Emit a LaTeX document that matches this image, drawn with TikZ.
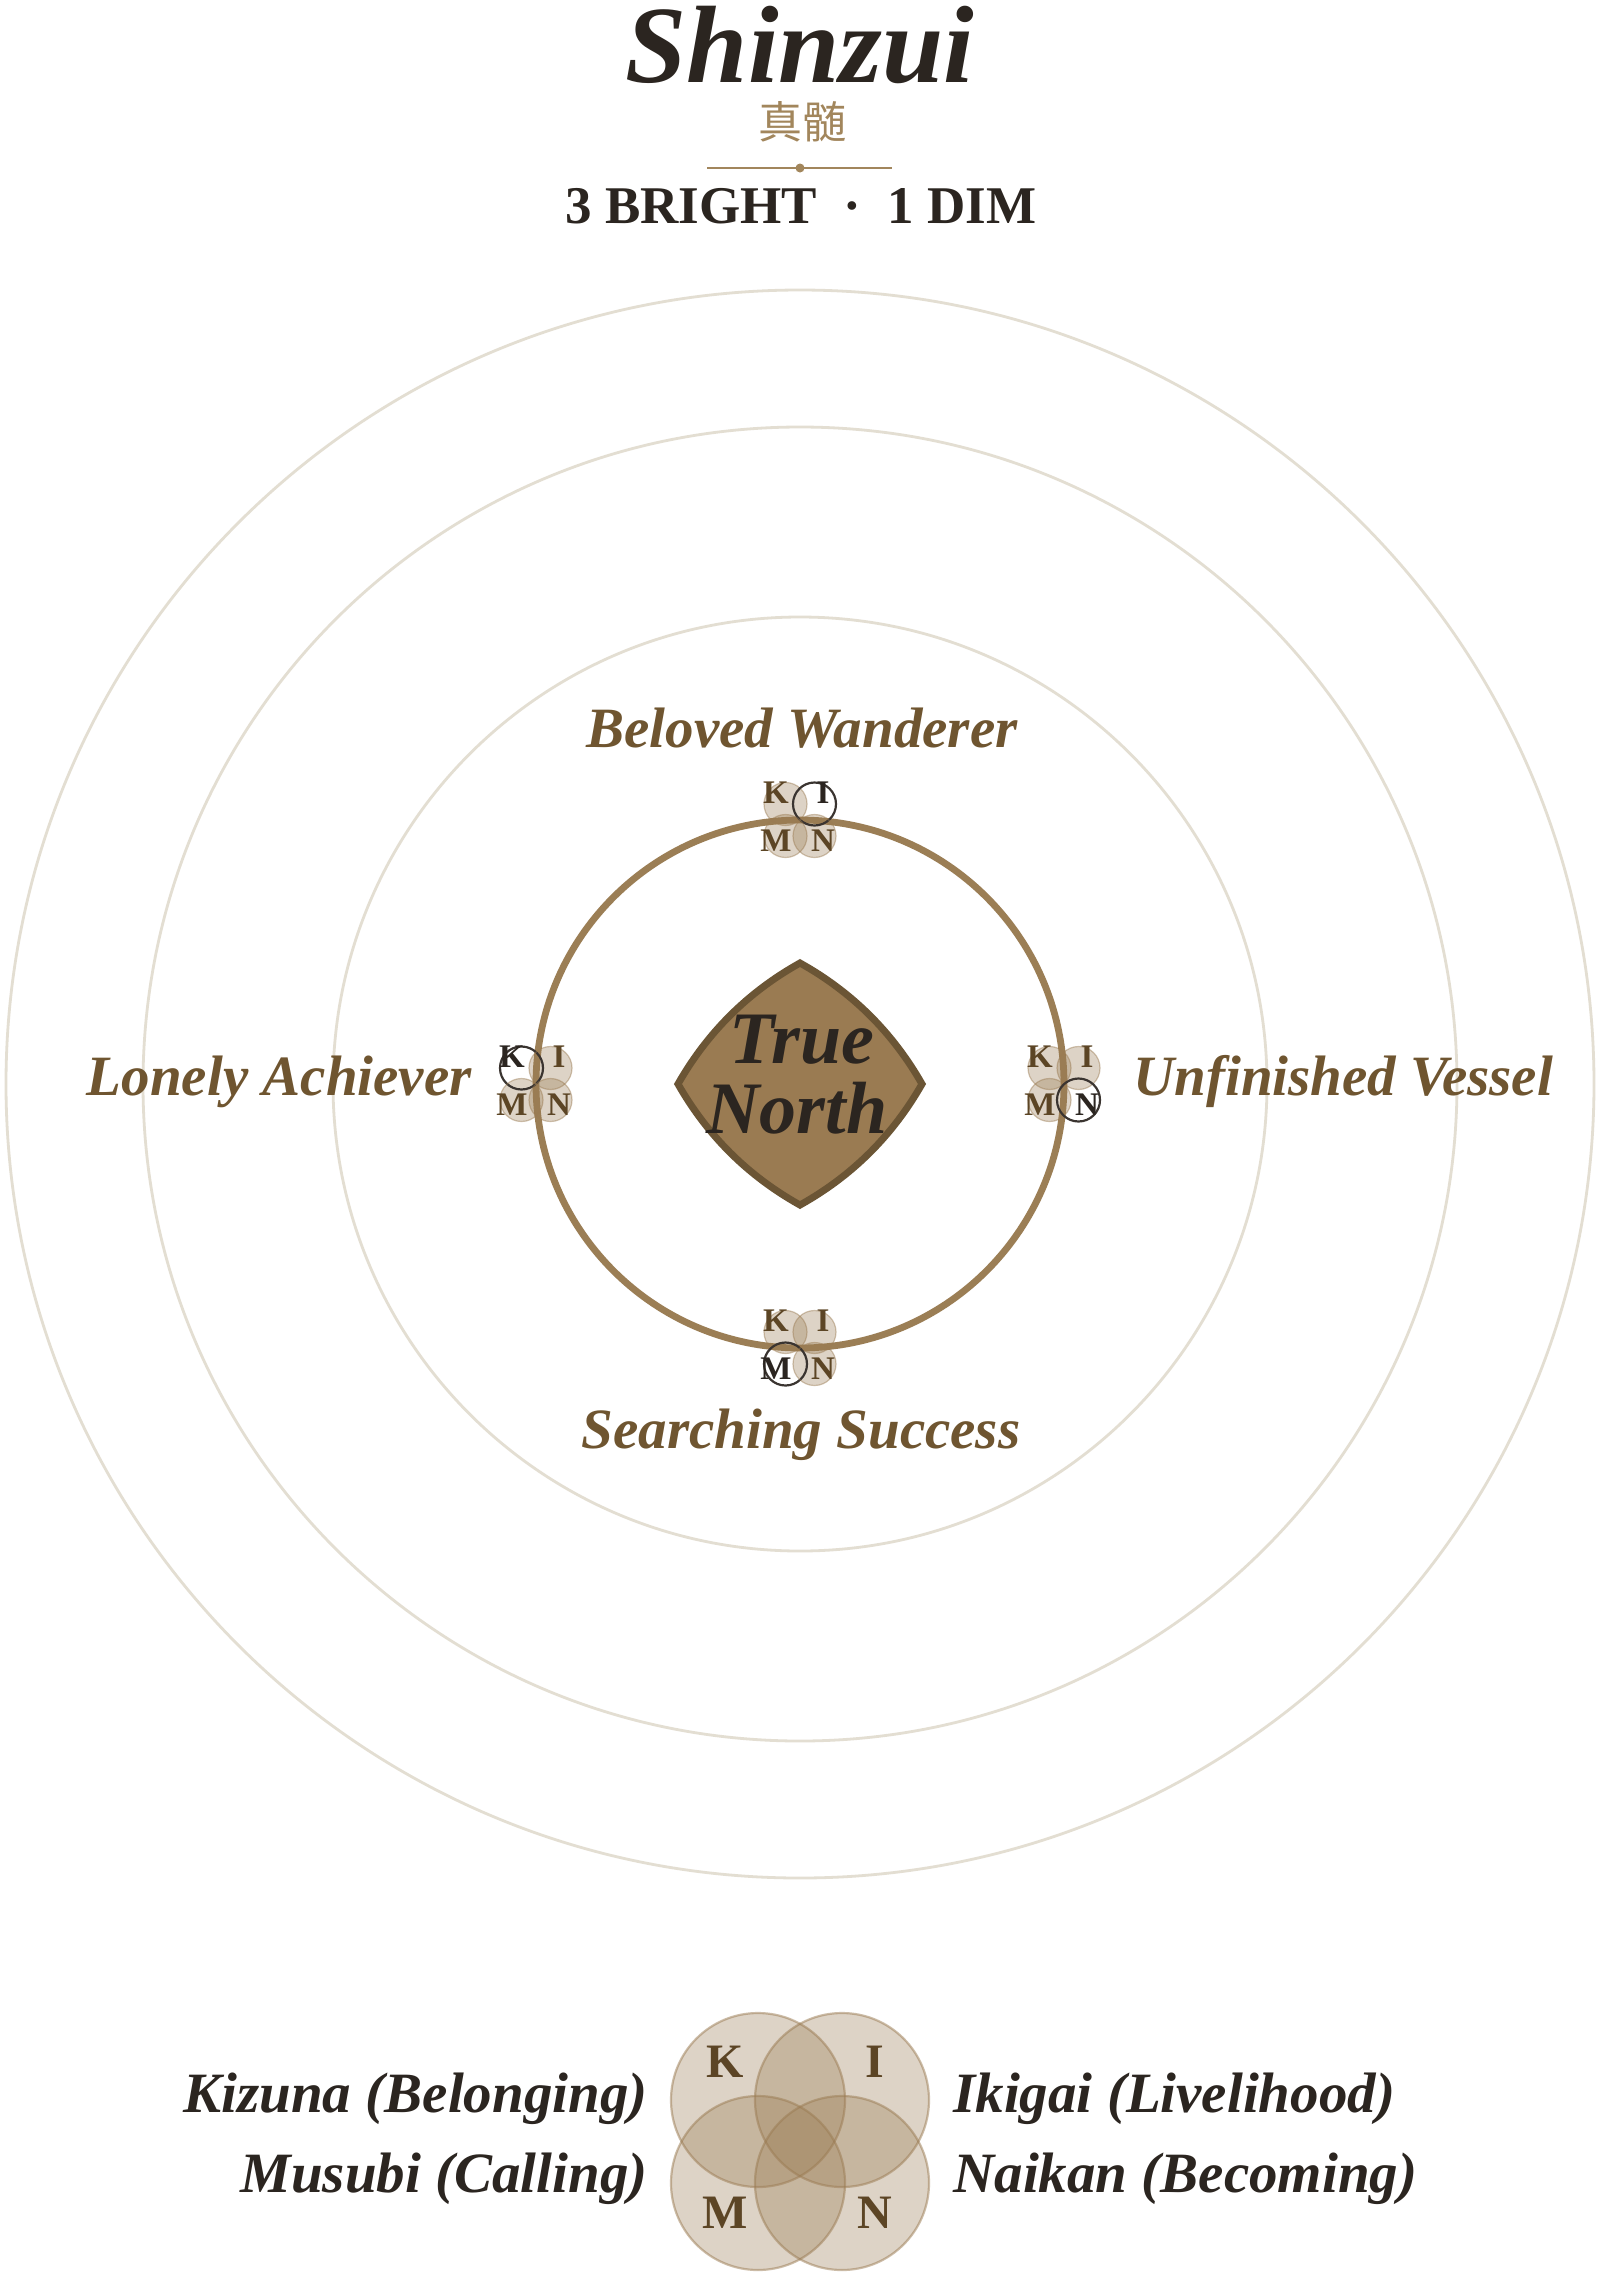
\documentclass[tikz,border=0pt]{standalone}
\usepackage{fontspec}
\setmainfont{Liberation Serif}
\newfontfamily\cjkfont{Noto Sans CJK JP}
\definecolor{ink}{HTML}{2B2520}
\definecolor{gold}{HTML}{A2865C}
\definecolor{labelbrown}{HTML}{6F5530}
\definecolor{letterbrown}{HTML}{5C4525}
\definecolor{tanbase}{HTML}{9A7B52}
\definecolor{ringmain}{HTML}{9B7E55}
\definecolor{bgline}{HTML}{E3DED2}
\definecolor{diamondedge}{HTML}{6B5535}
\definecolor{dimline}{HTML}{3A3430}
\newcommand\kimnglyph[7]{%
  \fill[c#4] (#2-14.5,#3-16) circle (21.5);
  \fill[c#5] (#2+14.5,#3-16) circle (21.5);
  \fill[c#6] (#2-14.5,#3+16) circle (21.5);
  \fill[c#7] (#2+14.5,#3+16) circle (21.5);
  \draw[o#4] (#2-14.5,#3-16) circle (21.5);
  \draw[o#5] (#2+14.5,#3-16) circle (21.5);
  \draw[o#6] (#2-14.5,#3+16) circle (21.5);
  \draw[o#7] (#2+14.5,#3+16) circle (21.5);
  \node[t#4] (#1K) at (#2-24,#3-27) {K};
  \node[t#5] (#1I) at (#2+23,#3-27) {I};
  \node[t#6] (#1M) at (#2-24,#3+21) {M};
  \node[t#7] (#1N) at (#2+23,#3+21) {N};
}
\begin{document}
\begin{tikzpicture}[x=0.5pt,y=-0.5pt,
  bgring/.style={draw=bgline, line width=1.4pt},
  cb/.style={fill=tanbase, fill opacity=0.33},
  cd/.style={fill=white, fill opacity=0},
  ob/.style={draw=tanbase, draw opacity=0.45, line width=0.6pt},
  od/.style={draw=dimline, line width=1.1pt},
  tb/.style={inner sep=0pt, text=letterbrown, font=\bfseries\fontsize{16.5}{16.5}\selectfont},
  td/.style={inner sep=0pt, text=ink, font=\bfseries\fontsize{16.5}{16.5}\selectfont},
  biglabel/.style={inner sep=0pt, text=labelbrown, font=\bfseries\itshape\fontsize{28.5}{30}\selectfont},
  legendlabel/.style={inner sep=0pt, text=ink, font=\bfseries\itshape\fontsize{28.5}{30}\selectfont},
  legendletter/.style={inner sep=0pt, text=letterbrown, font=\bfseries\fontsize{24}{24}\selectfont},
  legendc/.style={fill=tanbase, fill opacity=0.33, draw=tanbase, draw opacity=0.5, line width=1.1pt}
]
\useasboundingbox[fill=white] (0,0) rectangle (1600,2277);

% header
\node[inner sep=0pt, anchor=base, text depth=0pt, text=ink, font=\bfseries\itshape\fontsize{55}{60}\selectfont] (title) at (800,82) {Shinzui};
\node[inner sep=0pt, anchor=base, text height=16pt, text=gold, font=\cjkfont\fontsize{22}{24}\selectfont] (kanji) at (802,138) {真髄};
\coordinate (ruleL) at (707,168);
\coordinate (ruleR) at (892,168);
\draw[gold, line width=1.4pt] (ruleL) -- (ruleR);
\fill[gold] (800,168) circle (4.5);
\node[inner sep=0pt, anchor=base, text=ink, font=\bfseries\fontsize{26.5}{28}\selectfont] (subtitle) at (801,223) {3 BRIGHT\hspace{0.5em}·\hspace{0.5em}1 DIM};

% background rings
\draw[bgring] (800,1084) circle (794);
\draw[bgring] (800,1084) circle (657);
\draw[bgring] (800,1084) circle (467);

% main ring
\draw[ringmain, line width=3.4pt] (800,1084) circle (264);

% diamond
\coordinate (dT) at (800,963);
\coordinate (dR) at (922,1084);
\coordinate (dB) at (800,1205);
\coordinate (dL) at (678,1084);
\draw[fill=tanbase, draw=diamondedge, line width=3.5pt, line join=miter]
  (dT) .. controls (852,992) and (892.6,1032.4) .. (dR)
       .. controls (892.6,1135.6) and (852,1176) .. (dB)
       .. controls (748,1176) and (707.4,1135.6) .. (dL)
       .. controls (707.4,1032.4) and (748,992) .. cycle;
\node[inner sep=0pt, anchor=base, text=ink, font=\bfseries\itshape\fontsize{37}{37}\selectfont] (tn1) at (802,1063) {True};
\node[inner sep=0pt, anchor=base, text=ink, font=\bfseries\itshape\fontsize{37}{37}\selectfont] (tn2) at (797,1133) {North};

% glyphs on ring
\kimnglyph{top}{800}{820}{b}{d}{b}{b}
\kimnglyph{left}{536}{1084}{d}{b}{b}{b}
\kimnglyph{right}{1064}{1084}{b}{b}{b}{d}
\kimnglyph{bottom}{800}{1348}{b}{b}{d}{b}

% labels
\node[biglabel, anchor=base] (lbTop) at (802,747) {Beloved Wanderer};
\node[biglabel, anchor=base east] (lbLeft) at (472,1095) {Lonely Achiever};
\node[biglabel, anchor=base west] (lbRight) at (1133,1095) {Unfinished Vessel};
\node[biglabel, anchor=base] (lbBottom) at (801,1448) {Searching Success};

% legend
\filldraw[legendc] (758,2100) circle (87);
\filldraw[legendc] (842,2100) circle (87);
\filldraw[legendc] (758,2183) circle (87);
\filldraw[legendc] (842,2183) circle (87);
\node[legendletter] (lgK) at (725,2062) {K};
\node[legendletter] (lgI) at (875,2062) {I};
\node[legendletter] (lgM) at (725,2213) {M};
\node[legendletter] (lgN) at (875,2213) {N};
\node[legendlabel, anchor=base east] (lgKiz) at (648,2112) {Kizuna (Belonging)};
\node[legendlabel, anchor=base east] (lgMus) at (648,2192) {Musubi (Calling)};
\node[legendlabel, anchor=base west] (lgIki) at (953,2112) {Ikigai (Livelihood)};
\node[legendlabel, anchor=base west] (lgNai) at (953,2192) {Naikan (Becoming)};
\end{tikzpicture}
\end{document}
